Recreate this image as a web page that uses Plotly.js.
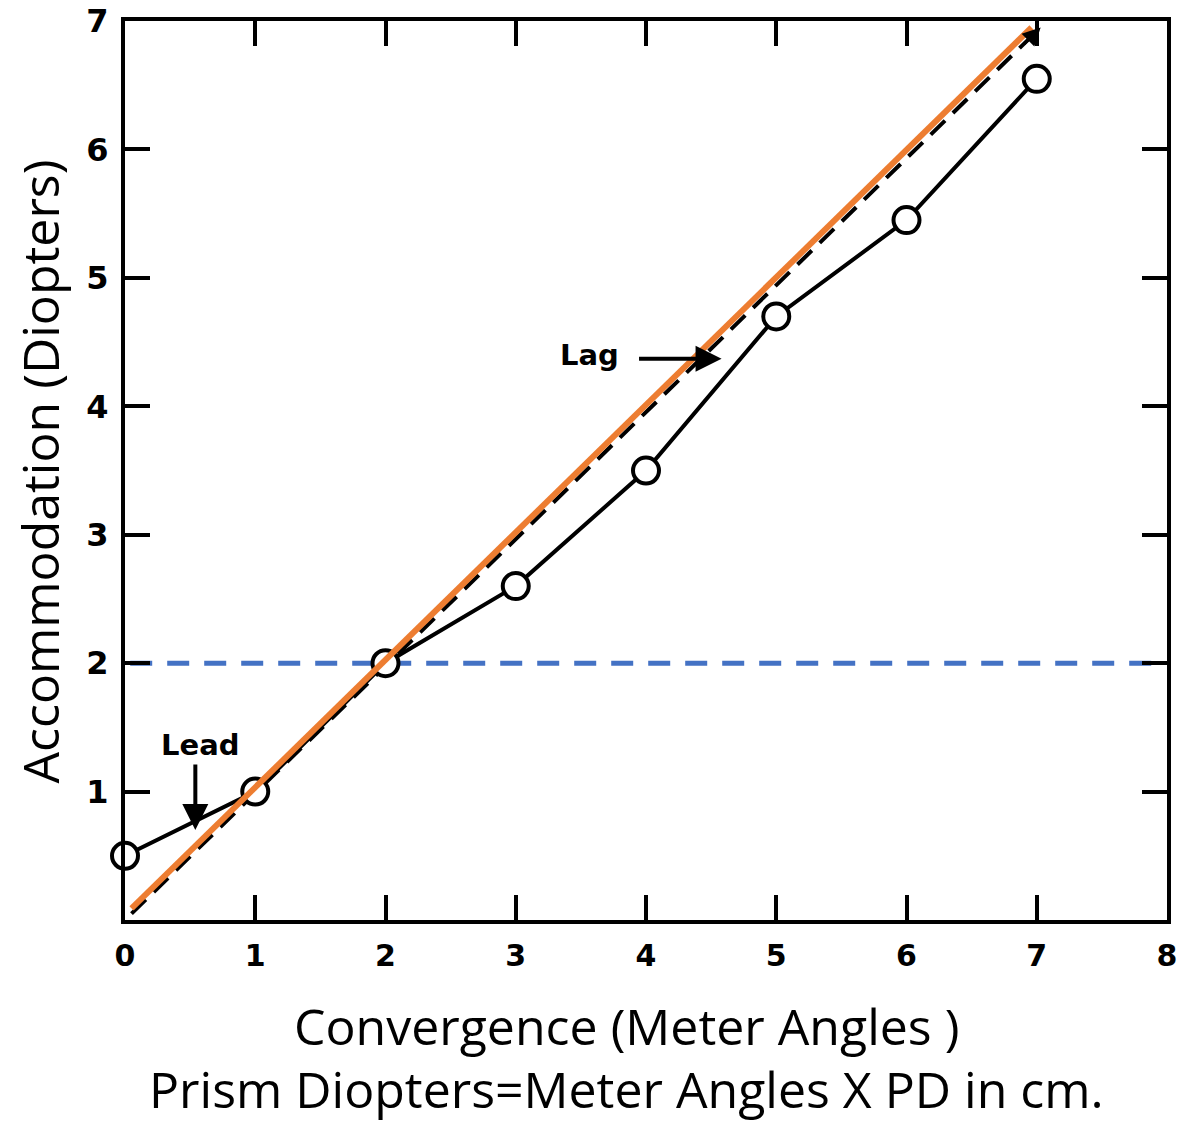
<!DOCTYPE html>
<html>
<head>
<meta charset="utf-8">
<script src="https://cdn.plot.ly/plotly-3.0.1.min.js"></script>
<style>html,body{margin:0;padding:0;background:#fff;}#chart{width:1178px;height:1124px;}</style>
</head>
<body>
<div id="chart"></div>
<script>
// Measured response: accommodation vs convergence
var convergence = [0, 1, 2, 3, 4, 5, 6, 7];
var accommodation = [0.5, 1.0, 2.0, 2.6, 3.5, 4.7, 5.45, 6.55];

// Ideal 1:1 line (dashed, from the original figure)
var idealX = [0.05, 7.03];
var idealY = [0.05, 6.95];

// Orange overlay line
var orangeX = [0.05, 6.96];
var orangeY = [0.09, 6.95];

// Blue dashed reference at 2 D
var refX = [0.04, 7.96];
var refY = [2, 2];

var xTicks = [0, 1, 2, 3, 4, 5, 6, 7, 8];
var xTickText = ['0', '1', '2', '3', '4', '5', '6', '7', '8'];
var yTicks = [1, 2, 3, 4, 5, 6, 7];
var yTickText = ['1', '2', '3', '4', '5', '6', '7'];

var xTitle1 = 'Convergence (Meter Angles )';
var xTitle2 = 'Prism Diopters=Meter Angles X PD in cm.';
var yTitle = 'Accommodation (Diopters)';

var traces = [
  {x: refX, y: refY, mode: 'lines', line: {color: '#4472C4', width: 5, dash: '22px,15px'}, hoverinfo: 'skip', cliponaxis: false},
  {x: idealX, y: idealY, mode: 'lines', line: {color: '#000', width: 4, dash: '20px,11px'}, hoverinfo: 'skip', cliponaxis: false},
  {x: convergence, y: accommodation, mode: 'lines+markers', line: {color: '#000', width: 4},
   marker: {symbol: 'circle', size: 26, color: '#fff', line: {color: '#000', width: 4}}, cliponaxis: false},
  {x: orangeX, y: orangeY, mode: 'lines', line: {color: '#ED7D31', width: 6}, hoverinfo: 'skip', cliponaxis: false}
];

var tickFontX = {family: 'DejaVu Sans', size: 30, color: '#000', weight: 'bold'};
var tickFontY = {family: 'DejaVu Sans', size: 32, color: '#000', weight: 'bold'};
var noteFont = {family: 'DejaVu Sans', size: 29, color: '#000', weight: 'bold'};
var titleFont = {family: 'Open Sans', size: 50, color: '#000'};

var layout = {
  width: 1178, height: 1124,
  margin: {l: 125, r: 11, t: 21, b: 204},
  paper_bgcolor: '#fff', plot_bgcolor: '#fff',
  showlegend: false,
  xaxis: {range: [0, 8], tickvals: xTicks, ticktext: xTickText, ticks: 'inside', ticklen: 25, tickwidth: 4, tickcolor: '#000',
          showline: true, linewidth: 4, linecolor: '#000', mirror: 'ticks', showgrid: false, zeroline: false,
          tickfont: tickFontX, ticklabelstandoff: 6, ticklabeloverflow: 'allow'},
  yaxis: {range: [0, 7.0005], tickvals: yTicks, ticktext: yTickText, ticks: 'inside', ticklen: 25, tickwidth: 4, tickcolor: '#000',
          showline: true, linewidth: 4, linecolor: '#000', mirror: 'ticks', showgrid: false, zeroline: false,
          tickfont: tickFontY, ticklabelstandoff: 6, ticklabeloverflow: 'allow'},
  annotations: [
    {x: 0.576, y: 1.36, xref: 'x', yref: 'y', text: 'Lead', showarrow: false, font: noteFont},
    {x: 0.54, y: 0.70, xref: 'x', yref: 'y', text: '', showarrow: true, ax: 0, ay: -67, arrowhead: 2, arrowsize: 1.3, arrowwidth: 4, arrowcolor: '#000'},
    {x: 3.57, y: 4.40, xref: 'x', yref: 'y', text: 'Lag', showarrow: false, font: noteFont},
    {x: 4.58, y: 4.37, xref: 'x', yref: 'y', text: '', showarrow: true, ax: -84, ay: 0, arrowhead: 2, arrowsize: 1.3, arrowwidth: 4, arrowcolor: '#000'},
    {x: 7.03, y: 6.95, xref: 'x', yref: 'y', text: '', showarrow: true, ax: -18, ay: 18, arrowhead: 2, arrowsize: 1.2, arrowwidth: 3, arrowcolor: '#000'},
    {x: 0.481, y: -0.1179, xref: 'paper', yref: 'paper', text: xTitle1, showarrow: false, font: titleFont, xanchor: 'center', yanchor: 'middle'},
    {x: 0.481, y: -0.188, xref: 'paper', yref: 'paper', text: xTitle2, showarrow: false, font: titleFont, xanchor: 'center', yanchor: 'middle'},
    {x: -0.082, y: 0.4983, xref: 'paper', yref: 'paper', text: yTitle, showarrow: false, font: titleFont, textangle: -90, xanchor: 'center', yanchor: 'middle'}
  ]
};

Plotly.newPlot('chart', traces, layout, {displayModeBar: false, staticPlot: true});
</script>
</body>
</html>
